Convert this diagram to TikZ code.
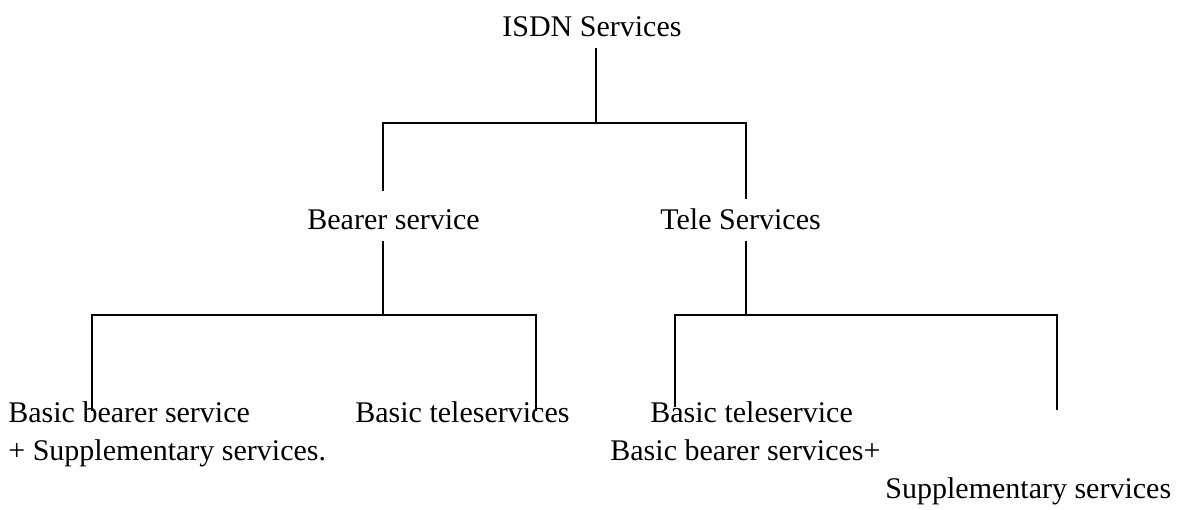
\documentclass[tikz,border=0pt]{standalone}
\usepackage{fontspec}
\setmainfont{Liberation Serif}
\begin{document}
\begin{tikzpicture}[x=0.5pt, y=-0.5pt,
    txt/.style={inner sep=0pt, anchor=base west, font=\fontsize{15}{18}\selectfont},
    branch/.style={line width=0.8pt}]
    \useasboundingbox (0,0) rectangle (1177,509);

    % top level
    \node[txt] (isdn) at (502,36) {ISDN Services};

    % second level
    \node[txt] (bearer) at (307,229) {Bearer service};
    \node[txt] (tele) at (660,229) {Tele Services};

    % leaves
    \node[txt] (basic-bearer) at (8,422) {Basic bearer service};
    \node[txt] (supp-a) at (8,460) {+ Supplementary services.};
    \node[txt] (basic-teles) at (355,422) {Basic teleservices};
    \node[txt] (basic-tele) at (650,422) {Basic teleservice};
    \node[txt] (basic-bearers) at (610,460) {Basic bearer services+};
    \node[txt] (supp-b) at (885,498) {Supplementary services};

    % bar ends
    \coordinate (top-l) at (383,123);
    \coordinate (top-r) at (746,123);
    \coordinate (mid-l) at (92,315);
    \coordinate (mid-r) at (536,315);
    \coordinate (low-l) at (675,315);
    \coordinate (low-r) at (1057,315);
    \coordinate (low-end) at (1057,410);

    % connectors
    \draw[branch] ([yshift=-5.5pt]isdn.south -| 596,0) -- (top-l -| 596,0);
    \draw[branch] ([yshift=9pt]bearer.north -| top-l) -- (top-l) -- (top-r)
        -- ([yshift=4.5pt]tele.north -| top-r);
    \draw[branch] ([yshift=-5.5pt]bearer.south -| top-l) -- (mid-l -| top-l);
    \draw[branch] ([yshift=-5pt]basic-bearer.north -| mid-l) -- (mid-l) -- (mid-r)
        -- ([yshift=-5pt]basic-teles.north -| mid-r);
    \draw[branch] ([yshift=-5.5pt]tele.south -| top-r) -- (low-l -| top-r);
    \draw[branch] ([yshift=-3pt]basic-tele.north -| low-l) -- (low-l) -- (low-r) -- (low-end);
\end{tikzpicture}
\end{document}
